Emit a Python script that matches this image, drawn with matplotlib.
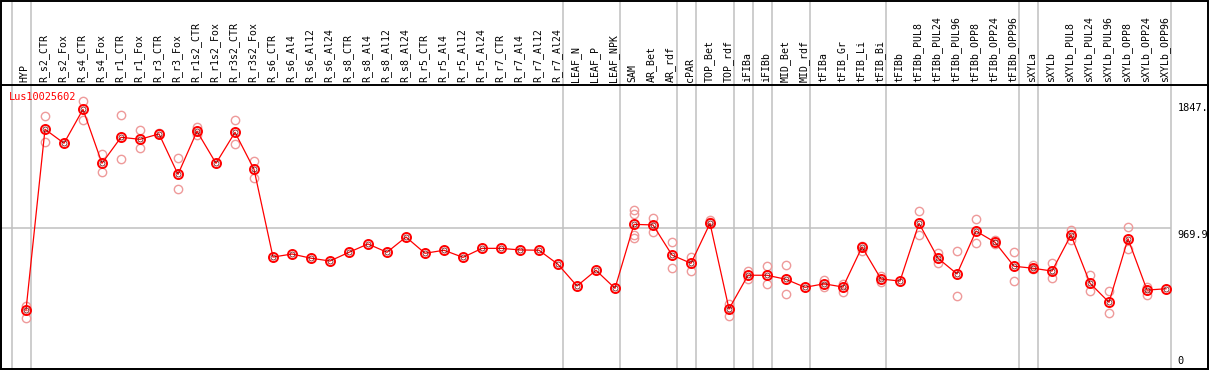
import matplotlib
matplotlib.use("Agg")
import matplotlib.pyplot as plt
import matplotlib.transforms as mtransforms

W, H = 1209, 370

categories = [
    "HYP", "R_s2_CTR", "R_s2_Fox", "R_s4_CTR", "R_s4_Fox", "R_r1_CTR", "R_r1_Fox",
    "R_r3_CTR", "R_r3_Fox", "R_r1s2_CTR", "R_r1s2_Fox", "R_r3s2_CTR", "R_r3s2_Fox",
    "R_s6_CTR", "R_s6_Al4", "R_s6_Al12", "R_s6_Al24", "R_s8_CTR", "R_s8_Al4",
    "R_s8_Al12", "R_s8_Al24", "R_r5_CTR", "R_r5_Al4", "R_r5_Al12", "R_r5_Al24",
    "R_r7_CTR", "R_r7_Al4", "R_r7_Al12", "R_r7_Al24", "LEAF_N", "LEAF_P", "LEAF_NPK",
    "SAM", "AR_Bet", "AR_rdf", "cPAR", "TOP_Bet", "TOP_rdf", "iFIBa", "iFIBb",
    "MID_Bet", "MID_rdf", "tFIBa", "tFIB_Gr", "tFIB_Li", "tFIB_Bi", "tFIBb",
    "tFIBb_PUL8", "tFIBb_PUL24", "tFIBb_PUL96", "tFIBb_OPP8", "tFIBb_OPP24",
    "tFIBb_OPP96", "sXYLa", "sXYLb", "sXYLb_PUL8", "sXYLb_PUL24", "sXYLb_PUL96",
    "sXYLb_OPP8", "sXYLb_OPP24", "sXYLb_OPP96",
]

mean_vals = [
    408, 1651, 1555, 1788, 1417, 1596, 1582, 1619, 1341, 1637, 1417, 1630, 1376,
    772, 793, 764, 745, 805, 862, 805, 910, 798, 819, 770, 832, 832, 821, 819, 722,
    573, 681, 557, 997, 993, 786, 729, 1004, 415, 647, 647, 619, 564, 588, 566, 841,
    621, 607, 1004, 764, 656, 951, 874, 709, 695, 676, 924, 592, 461, 898, 545, 554,
]

rep_vals = [
    [437, 355], [1742, 1561], [], [1847, 1715], [1481, 1355], [1749, 1447],
    [1646, 1520], [1628], [1451, 1238], [1669, 1612], [], [1713, 1548], [1433, 1318],
    [], [], [], [], [], [], [], [], [], [], [], [], [], [], [], [],
    [], [], [],
    [1096, 1066, 924, 905], [1039, 942], [874, 695], [772, 678], [1027, 1013],
    [447, 369], [676, 619], [709, 585], [717, 516], [], [614, 563], [585, 534],
    [850, 814], [642, 603], [], [1087, 922], [802, 729], [814, 502], [1032, 867],
    [889, 860], [805, 607], [717, 688], [729, 630], [958, 889], [649, 537],
    [539, 385], [979, 825], [568, 511], [],
]

# gray separators sit just right of these category indices
group_ends = [-1, 0, 28, 31, 34, 35, 37, 38, 39, 41, 45, 52, 53, 60]

gene_id = "Lus10025602"
y_marks = [1847, 969.9, 0]
y_mark_labels = ["1847.", "969.9", "0"]

# pixel layout of the original
x0_px, x1_px = 1, 1208
top_px, bot_px = 85, 369.3
step_px, first_px = 19, 26
px_per_unit = (bot_px - 228.3) / 969.9

fig = plt.figure(figsize=(W / 100, H / 100), dpi=100)
fig.patch.set_facecolor("white")
ax = fig.add_axes([x0_px / W, 1 - bot_px / H, (x1_px - x0_px) / W, (bot_px - top_px) / H])
ax.set_xlim((x0_px - first_px) / step_px, (x1_px - first_px) / step_px)
ax.set_ylim(0, (bot_px - top_px) / px_per_unit)
ax.set_xticks([])
ax.set_yticks([])
for s in ax.spines.values():
    s.set_linewidth(1.2)
    s.set_color("black")
ax.spines["top"].set_linewidth(1.4)

# outer frame of the whole panel
frame = plt.Rectangle((x0_px / W, 1 - bot_px / H), (x1_px - x0_px) / W, (bot_px - 0.6) / H,
                      transform=fig.transFigure, fill=False, ec="black", lw=1.4)
fig.patches.append(frame)

off = 4.6 / step_px
ymax_ext = bot_px / (bot_px - top_px)
for g in group_ends:
    ax.axvline(g + off, ymin=0, ymax=ymax_ext, color="#c0c0c0", lw=1.1,
               clip_on=False, zorder=1)
ax.hlines(969.9, ax.get_xlim()[0], group_ends[-1] + off, color="#c0c0c0", lw=1.1, zorder=1)

xs = list(range(len(categories)))
for i, reps in enumerate(rep_vals):
    if reps:
        ax.plot([i] * len(reps), reps, "o", ms=6, mfc="none", mec="#ee9a9a", mew=1.0, zorder=2)

ax.plot(xs, mean_vals, "-", color="red", lw=0.9, zorder=3)
ax.plot(xs, mean_vals, "o", ms=6.5, mfc="none", mec="red", mew=1.4, zorder=4)
ax.plot(xs, mean_vals, "o", ms=3.6, mfc="none", mec="#600000", mew=0.5, zorder=4)

# rotated category names in the header
trans = mtransforms.blended_transform_factory(ax.transData, ax.transAxes)
for i, name in enumerate(categories):
    ax.text(i - 0.06, 1.009, name, rotation=90, ha="center", va="bottom",
            family="DejaVu Sans Mono", fontsize=7.1, transform=trans, clip_on=False)

ax.text(-0.9, 1873, gene_id, color="red", family="DejaVu Sans Mono", fontsize=7.4,
        ha="left", va="center")

for v, lab in zip(y_marks, y_mark_labels):
    ax.text(60.6, v + (25 if v == 0 else -15), lab, family="DejaVu Sans Mono",
            fontsize=7.4, ha="left", va="bottom" if v == 0 else "top")

fig.savefig("out.png", dpi=100, facecolor="white")
